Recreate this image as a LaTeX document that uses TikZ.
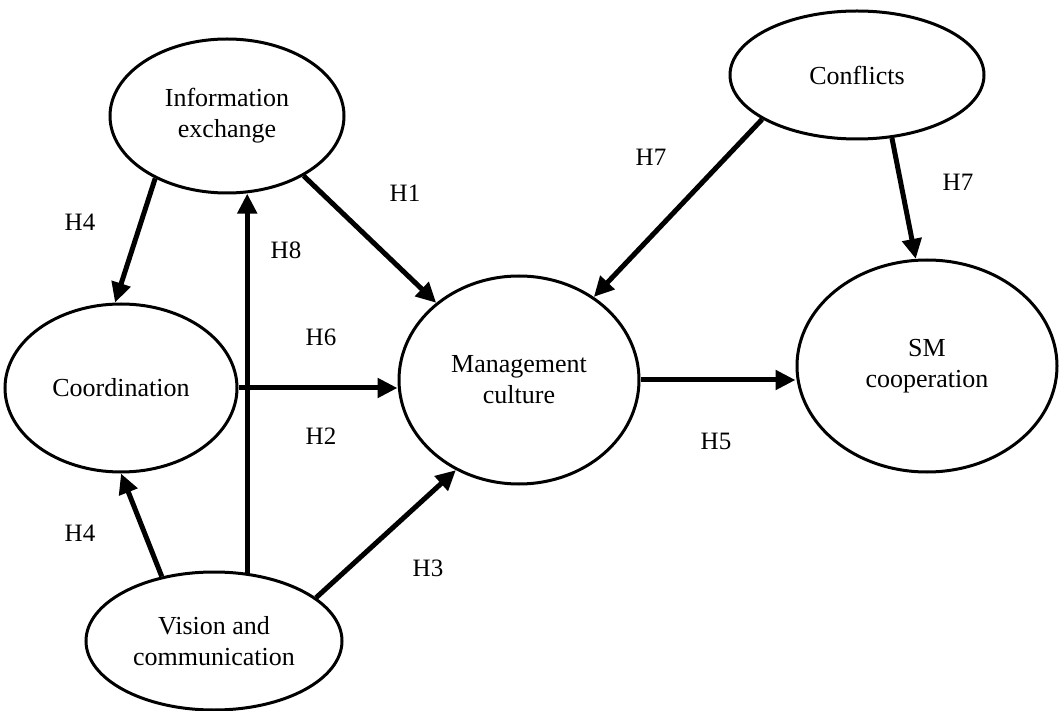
\documentclass[tikz,border=0pt]{standalone}
\usepackage{fontspec}
\setmainfont{Liberation Serif}
\usetikzlibrary{arrows.meta,shapes.geometric}
\begin{document}
\begin{tikzpicture}[x=1pt,y=-1pt,
  var/.style={draw=black,line width=3pt,ellipse,inner sep=0pt,align=center,
    font=\fontsize{26pt}{31pt}\selectfont},
  lab/.style={font=\fontsize{25pt}{30pt}\selectfont,inner sep=0pt},
  arr/.style={line width=5pt,-{Triangle[length=20pt,width=19pt]}}]
\useasboundingbox (0,0) rectangle (1061,711);
\node[var,minimum width=234pt,minimum height=154pt] (ie) at (227,116) {Information\\exchange};
\node[var,minimum width=254pt,minimum height=128pt] (cf) at (857,75) {Conflicts};
\node[var,minimum width=232pt,minimum height=168pt] (co) at (121,388) {Coordination};
\node[var,minimum width=240pt,minimum height=208pt] (mc) at (519,380) {Management\\culture};
\node[var,minimum width=260pt,minimum height=212pt] (sm) at (927,366) {SM\\cooperation};
\node[var,minimum width=256pt,minimum height=138pt] (vc) at (214,641) {Vision and\\communication};

\draw[arr] (ie.221.9) -- (co.94);
\draw[arr] (vc.64.8) -- (vc.64.8 |- ie.283.3);
\draw[arr] (ie.322.4) -- (mc.137.5);
\draw[arr] (co.east) -- (co.east -| mc.west);
\draw[arr] (vc.23) -- (mc.235.2);
\draw[arr] (vc.129) -- (co.270);
\draw[arr] (cf.205) -- (mc.48.3);
\draw[arr] (cf.299) -- (sm.96.3);
\draw[arr] (mc.east) -- (mc.east -| sm.west);

\node[lab] (l1) at (80,222) {H4};
\node[lab] (l2) at (286,250) {H8};
\node[lab] (l3) at (405,193) {H1};
\node[lab] (l4) at (321,337) {H6};
\node[lab] (l5) at (321,436) {H2};
\node[lab] (l6) at (80,533) {H4};
\node[lab] (l7) at (428,568) {H3};
\node[lab] (l8) at (651,157) {H7};
\node[lab] (l9) at (958,182) {H7};
\node[lab] (l10) at (716,441) {H5};
\end{tikzpicture}
\end{document}
